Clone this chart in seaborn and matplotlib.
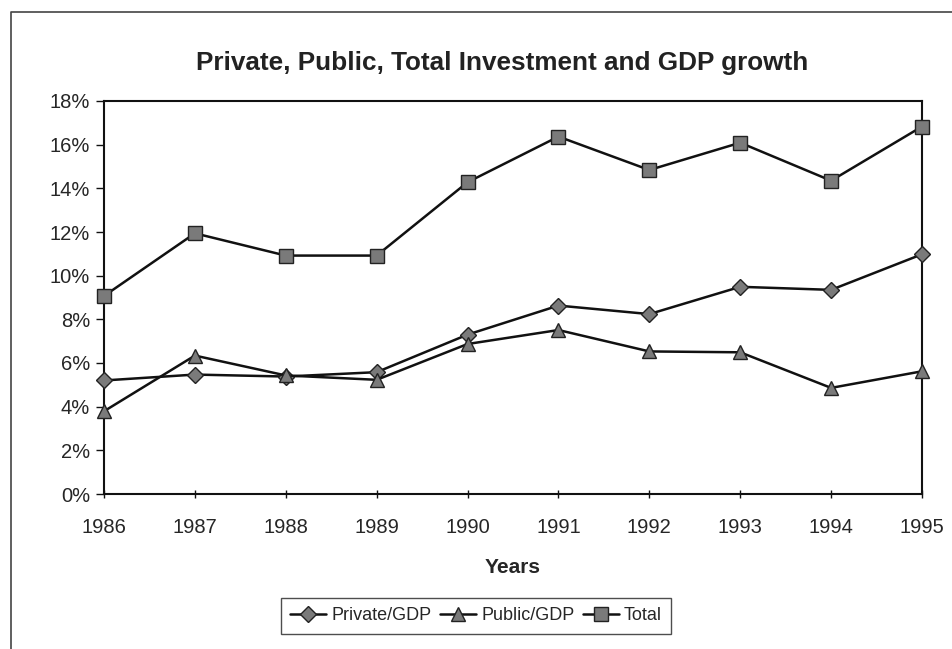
import matplotlib
matplotlib.use("Agg")
import matplotlib.pyplot as plt
import matplotlib.ticker as mticker
from matplotlib.lines import Line2D
import seaborn as sns
import pandas as pd

years = [1986, 1987, 1988, 1989, 1990, 1991, 1992, 1993, 1994, 1995]
private_gdp = [5.2, 5.47, 5.38, 5.58, 7.3, 8.63, 8.24, 9.49, 9.35, 10.98]
public_gdp = [3.79, 6.34, 5.43, 5.23, 6.87, 7.51, 6.53, 6.49, 4.86, 5.62]
total = [9.07, 11.94, 10.92, 10.92, 14.28, 16.37, 14.84, 16.09, 14.35, 16.83]
series_names = ["Private/GDP", "Public/GDP", "Total"]
series_markers = ["D", "^", "s"]

sns.set_theme(style="white")
plt.rcParams["font.family"] = ["Liberation Sans", "DejaVu Sans"]

df = pd.DataFrame({
    "Year": years * 3,
    "Value": private_gdp + public_gdp + total,
    "Series": [series_names[0]] * len(years) + [series_names[1]] * len(years) + [series_names[2]] * len(years),
})

fig = plt.figure(figsize=(9.52, 6.49), dpi=100)
ax = fig.add_axes([104 / 952, 1 - 494 / 649, (922 - 104) / 952, (494 - 101) / 649])

sns.lineplot(data=df, x="Year", y="Value", hue="Series", style="Series",
             palette=["#111111"] * 3, markers=dict(zip(series_names, series_markers)),
             dashes=False, ax=ax, linewidth=1.8, markersize=9.5,
             markerfacecolor="#7a7a7a", markeredgecolor="#222222", markeredgewidth=1.0,
             legend=False, clip_on=False, zorder=3)
for ln in ax.lines:
    ln.set_clip_on(False)
ax.lines[0].set_markersize(8)

ax.set_xlim(1986, 1995)
ax.set_ylim(0, 18)
ax.set_xticks(years)
ax.set_yticks(range(0, 19, 2))
ax.yaxis.set_major_formatter(mticker.FuncFormatter(lambda v, p: f"{int(v)}%"))
for sp in ax.spines.values():
    sp.set_visible(True)
    sp.set_color("#111111")
    sp.set_linewidth(1.5)
ax.tick_params(axis="y", direction="out", length=6, width=1, color="#111111", labelsize=14.5, pad=4, left=True)
ax.tick_params(axis="x", direction="inout", length=6, width=1, color="#111111", labelsize=14.5, pad=14.5, bottom=True)
ax.set_xlabel("Years", fontsize=15, fontweight="bold", labelpad=15)
ax.set_ylabel("")

fig.text(502 / 952, 1 - 63 / 649, "Private, Public, Total Investment and GDP growth",
         ha="center", va="center", fontsize=18.8, fontweight="bold", color="#222222")

handles = [Line2D([0], [0], color="#111111", lw=1.8, marker=m, markersize=(8 if m == "D" else 9.5),
                  markerfacecolor="#7a7a7a", markeredgecolor="#222222") for m in series_markers]
leg = fig.legend(handles, series_names, loc="center", bbox_to_anchor=(476 / 952, 1 - 616 / 649),
                 ncol=3, fontsize=13, frameon=True, fancybox=False, handlelength=2.0,
                 columnspacing=0.45, handletextpad=0.3, borderpad=0.5, borderaxespad=0)
leg.get_frame().set_edgecolor("#222222")
leg.get_frame().set_linewidth(1.0)

fig.add_artist(Line2D([11 / 952, 11 / 952, 1.0], [0.0, 1 - 12 / 649, 1 - 12 / 649],
                      transform=fig.transFigure, color="#444444", lw=1.2))

fig.savefig("out.png", dpi=100)
